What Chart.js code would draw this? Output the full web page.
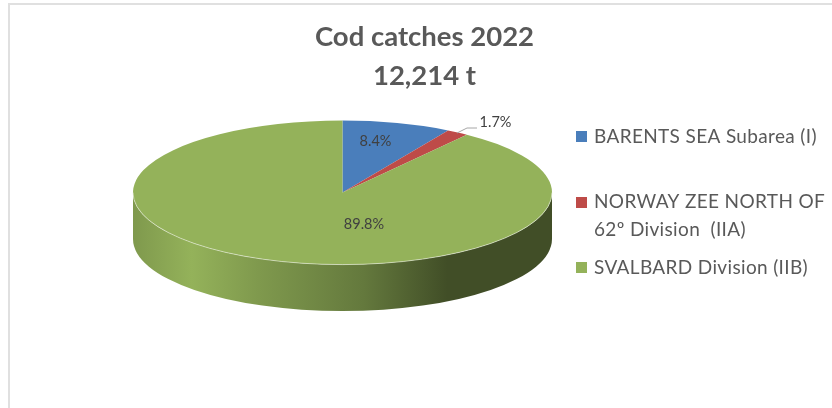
<!DOCTYPE html>
<html><head><meta charset="utf-8">
<style>
html,body{margin:0;padding:0;background:#fff;overflow:hidden}
#wrap{position:relative;width:832px;height:408px}
#frame{position:absolute;left:8px;top:3px;right:-4px;bottom:-4px;border:2px solid #e0e0e0}
canvas{position:absolute;left:0;top:0;filter:blur(0.45px)}
</style>
<script src="https://cdn.jsdelivr.net/npm/chart.js@4/dist/chart.umd.min.js"></script>
</head><body>
<div id="wrap"><div id="frame"></div><canvas id="c" width="832" height="408"></canvas></div>
<script>
const titleLines = ['Cod catches 2022', '12,214 t'];
const categories = ['BARENTS SEA Subarea (I)', 'NORWAY ZEE NORTH OF 62º Division  (IIA)', 'SVALBARD Division (IIB)'];
const legendLines = [['BARENTS SEA Subarea (I)'], ['NORWAY ZEE NORTH OF', '62º Division  (IIA)'], ['SVALBARD Division (IIB)']];
const shares = [8.4, 1.7, 89.8];
const colors = ['#4a7ebb', '#be4b48', '#94b25a'];

const FONT = 'Lato, Carlito, sans-serif';
const TILT = {cx: 342.5, cy: 192.6, rx: 209.5, ry: 72, depth: 46.5};
const LABEL_POS = [[375.5, 141], [495.5, 122], [364, 224]];
const LEGEND_Y = [[137], [201.5, 229.5], [268]];
const SWATCH_Y = [131, 197, 262];
const SHADE = [[0, .86], [.14, 1], [.3, .86], [.55, .68], [.75, .44], [1, .44]];

function shade(hex, k) {
  const n = parseInt(hex.slice(1), 16);
  return `rgb(${((n >> 16) & 255) * k | 0},${((n >> 8) & 255) * k | 0},${(n & 255) * k | 0})`;
}

const tilt3d = {
  id: 'tilt3d',
  beforeDatasetsDraw(chart) {
    const ctx = chart.ctx, arcs = chart.getDatasetMeta(0).data, T = TILT;
    ctx.save();
    arcs.forEach((arc, i) => {
      let a0 = arc.startAngle, a1 = arc.endAngle;
      // visible part of the wall is the front half, canvas angles 0..PI
      const s = Math.max(a0, 0), e = Math.min(a1, Math.PI);
      if (e <= s) return;
      const g = ctx.createLinearGradient(T.cx - T.rx, 0, T.cx + T.rx, 0);
      SHADE.forEach(([p, k]) => g.addColorStop(p, shade(colors[i], k)));
      ctx.beginPath();
      ctx.ellipse(T.cx, T.cy, T.rx, T.ry, 0, s, e);
      ctx.ellipse(T.cx, T.cy + T.depth, T.rx, T.ry, 0, e, s, true);
      ctx.closePath();
      ctx.fillStyle = g;
      ctx.fill();
    });
    ctx.restore();
    const r = arcs[0].outerRadius;
    ctx.save();
    ctx.translate(T.cx, T.cy);
    ctx.scale(T.rx / r, T.ry / r);
    ctx.translate(-arcs[0].x, -arcs[0].y);
  },
  afterDatasetsDraw(chart) {
    const ctx = chart.ctx, T = TILT;
    ctx.restore();
    // light rim between the top face and the wall
    ctx.save();
    ctx.beginPath();
    ctx.ellipse(T.cx, T.cy, T.rx, T.ry, 0, 0, Math.PI);
    ctx.strokeStyle = 'rgba(235,240,225,.75)';
    ctx.lineWidth = 0.8;
    ctx.stroke();
    // percentage labels
    ctx.font = '14.5px ' + FONT;
    ctx.textAlign = 'center';
    ctx.textBaseline = 'middle';
    ctx.fillStyle = '#404040';
    shares.forEach((v, i) => ctx.fillText(v.toFixed(1) + '%', LABEL_POS[i][0], LABEL_POS[i][1]));
    // leader line
    ctx.beginPath();
    ctx.moveTo(457, 133); ctx.lineTo(467, 128); ctx.lineTo(477, 128);
    ctx.strokeStyle = '#a6a6a6'; ctx.lineWidth = 1; ctx.stroke();
    // legend
    ctx.textAlign = 'left';
    ctx.font = '19px ' + FONT;
    ctx.letterSpacing = '0.35px';
    legendLines.forEach((lines, i) => {
      ctx.fillStyle = colors[i];
      ctx.fillRect(576, SWATCH_Y[i], 11, 11);
      ctx.fillStyle = '#595959';
      lines.forEach((t, j) => ctx.fillText(t, 594, LEGEND_Y[i][j]));
    });
    ctx.restore();
  }
};

new Chart(document.getElementById('c'), {
  type: 'pie',
  data: {labels: categories, datasets: [{data: shares, backgroundColor: colors, borderWidth: 0}]},
  options: {
    responsive: false,
    animation: false,
    layout: {padding: {top: 10, bottom: 0, left: 17, right: 0}},
    plugins: {
      legend: {display: false},
      tooltip: {enabled: false},
      title: {
        display: true,
        text: titleLines,
        color: '#595959',
        font: {family: FONT, size: 27.5, weight: 'bold', lineHeight: 1.4},
        padding: {top: 8, bottom: 0}
      }
    }
  },
  plugins: [tilt3d]
});
</script>
</body></html>
